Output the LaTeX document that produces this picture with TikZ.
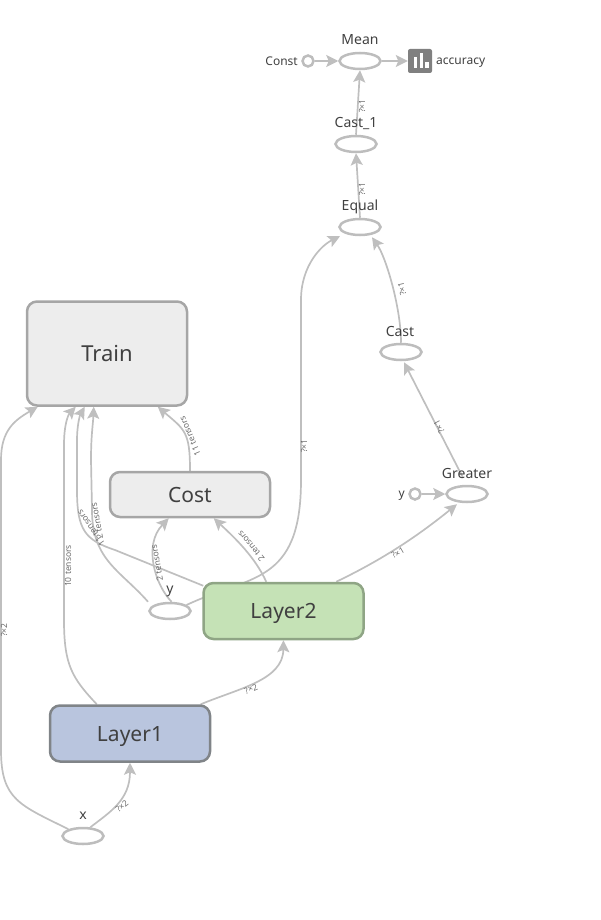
\documentclass[tikz,border=0pt]{standalone}
\usepackage{fontspec}
\setmainfont{Noto Sans}
\usetikzlibrary{arrows.meta,shapes.geometric}
\pgfdeclarelayer{edges}
\pgfsetlayers{edges,main}
\definecolor{edgecol}{HTML}{BFBFBF}
\definecolor{opcol}{HTML}{BDBDBD}
\definecolor{txt}{HTML}{404040}
\definecolor{ltwo}{HTML}{C5E2B6}
\definecolor{ltwob}{HTML}{8FA585}
\definecolor{lone}{HTML}{B9C5DE}
\definecolor{loneb}{HTML}{808488}
\tikzset{
  edge/.style={draw=edgecol,line width=1.7pt,-{Stealth[length=12pt,width=12pt,inset=2.5pt]}},
  plainbox/.style={rectangle,rounded corners=10pt,line width=2.5pt,inner sep=0pt,minimum width=160pt,text=txt,text depth=0pt},
  traincol/.style={fill=black!7,draw=black!35},
  op/.style={ellipse,draw=opcol,line width=2.5pt,fill=white,minimum width=41pt,minimum height=16pt,inner sep=0pt},
  cst/.style={circle,draw=opcol,line width=2.5pt,fill=white,minimum size=11pt,inner sep=0pt},
  opname/.style={font=\fontsize{14}{16}\selectfont,text=txt,inner sep=0pt,text depth=0pt},
  sm/.style={font=\fontsize{12}{14}\selectfont,text=txt,inner sep=0pt,text depth=0pt},
  elabel/.style={font=\fontsize{8.5}{10}\selectfont,text=black!58,inner sep=0pt},
}
\begin{document}
\begin{tikzpicture}[x=1pt,y=-1pt]
\useasboundingbox (0,0) rectangle (600,920);
% boxes
\node[plainbox,traincol,minimum height=104pt,font=\fontsize{22}{26}\selectfont] (train) at (107,353.5) {Train};
\node[plainbox,traincol,minimum height=45pt,font=\fontsize{21}{25}\selectfont] (cost) at (190,494.5) {Cost};
\node[plainbox,fill=ltwo,draw=ltwob,minimum height=56pt,font=\fontsize{21}{25}\selectfont] (layertwo) at (283.5,611) {Layer2};
\node[plainbox,fill=lone,draw=loneb,minimum height=56pt,font=\fontsize{21}{25}\selectfont] (layerone) at (130,733.5) {Layer1};
% ops
\node[op] (mean) at (360,61) {};
\node[op] (castone) at (356,144) {};
\node[op] (equal) at (360,227) {};
\node[op] (cast) at (401,352) {};
\node[op] (greater) at (467,494) {};
\node[op] (yop) at (170,611) {};
\node[op] (xop) at (83,836) {};
\node[cst] (const) at (308,61) {};
\node[cst] (yconst) at (415,494) {};
% op names
\node[opname] (tmean) at (360,39.5) {Mean};
\node[opname] (tcastone) at (356,122) {Cast\_1};
\node[opname] (tequal) at (360,205) {Equal};
\node[opname] (tcast) at (400,331) {Cast};
\node[opname] (tgreater) at (467,473) {Greater};
\node[opname] (ty) at (170,590) {y};
\node[opname] (tx) at (83,816) {x};
\node[sm,anchor=east] (tconst) at (298,61) {Const};
\node[sm,anchor=east] (tyconst) at (405,494) {y};
\node[sm,anchor=west] (tacc) at (436,61) {accuracy};
% summary icon
\node[rectangle,fill=black!50,rounded corners=2pt,minimum size=24pt,inner sep=0pt] (icon) at (420,61) {};
\fill[white] (413.5,56.7) rectangle (417,67.7);
\fill[white] (419.5,53.3) rectangle (423,67.7);
\fill[white] (425,61.7) rectangle (428.5,67.7);
% edges
\begin{pgfonlayer}{edges}
\draw[edge] (const) -- (mean);
\draw[edge] (mean) -- (icon);
\draw[edge] (castone.north) -- (mean.south);
\draw[edge] (equal.north) -- (castone.south);
\draw[edge] (cast.north) .. controls +(0,-35) and +(14,20) .. ([xshift=12pt,yshift=-1pt]equal.south);
\draw[edge] (greater.north) ++(-4,-7) -- ([xshift=3pt,yshift=-1pt]cast.south);
\draw[edge] (yconst) -- (greater);
\draw[edge] ([xshift=134pt]layertwo.north west) .. controls (390,556) and (425,530) .. ([xshift=-10pt,yshift=-1pt]greater.south);
\draw[edge] (yop.20) .. controls (250,575) and (301,585) .. (301,480) -- (301,300) .. controls (301,265) and (322,245) .. ([xshift=-20pt,yshift=0pt]equal.south);
\draw[edge] ([xshift=64pt]layertwo.north west) .. controls (255,557) and (235,538) .. ([xshift=105pt]cost.south west);
\draw[edge] (yop.80) .. controls (155,585) and (143,545) .. ([xshift=60pt]cost.south west);
\draw[edge] (cost.north) .. controls (190,432) and (185,430) .. ([xshift=132pt]train.south west);
\draw[edge] ([xshift=-22pt]yop.north) .. controls (120,570) and (92,560) .. (92,510) -- (91,460) .. controls (91,435) and (93,425) .. ([xshift=68pt]train.south west);
\draw[edge] ([xshift=1pt,yshift=-4pt]layertwo.north west) -- (115,550) .. controls (85,540) and (77,530) .. (77,490) -- (77,440) .. controls (77,425) and (80,415) .. ([xshift=59pt]train.south west);
\draw[edge] ([xshift=48pt]layerone.north west) .. controls (72,678) and (64,665) .. (64,620) -- (64,445) .. controls (64,425) and (68,415) .. ([xshift=50pt]train.south west);
\draw[edge] (xop.155) .. controls (20,805) and (1,800) .. (1,750) -- (1,460) .. controls (1,430) and (15,420) .. ([xshift=12pt]train.south west);
\draw[edge] ([xshift=152pt]layerone.north west) .. controls (240,688) and (283,680) .. (layertwo.south);
\draw[edge] (xop.50) .. controls (110,812) and (130,800) .. (layerone.south);
\end{pgfonlayer}
% edge labels
\node[elabel,rotate=90] (e1) at (362,106) {?×1};
\node[elabel,rotate=90] (e2) at (362,189) {?×1};
\node[elabel,rotate=103] (e3) at (402,289) {?×1};
\node[elabel,rotate=118] (e4) at (439,427) {?×1};
\node[elabel,rotate=90] (e5) at (304,446) {?×1};
\node[elabel,rotate=30] (e6) at (398,553) {?×1};
\node[elabel,rotate=22] (e7) at (251,689) {?×2};
\node[elabel,rotate=40] (e8) at (122,806) {?×2};
\node[elabel,rotate=90] (e9) at (4,630) {?×2};
\node[elabel,rotate=90] (e10) at (68,566) {10 tensors};
\node[elabel,rotate=100] (e11) at (97,521) {2 tensors};
\node[elabel,rotate=125] (e12) at (91,528) {11 tensors};
\node[elabel,rotate=100] (e13) at (157,563) {2 tensors};
\node[elabel,rotate=130] (e14) at (251,546) {2 tensors};
\node[elabel,rotate=113] (e15) at (190,436) {11 tensors};
\end{tikzpicture}
\end{document}
